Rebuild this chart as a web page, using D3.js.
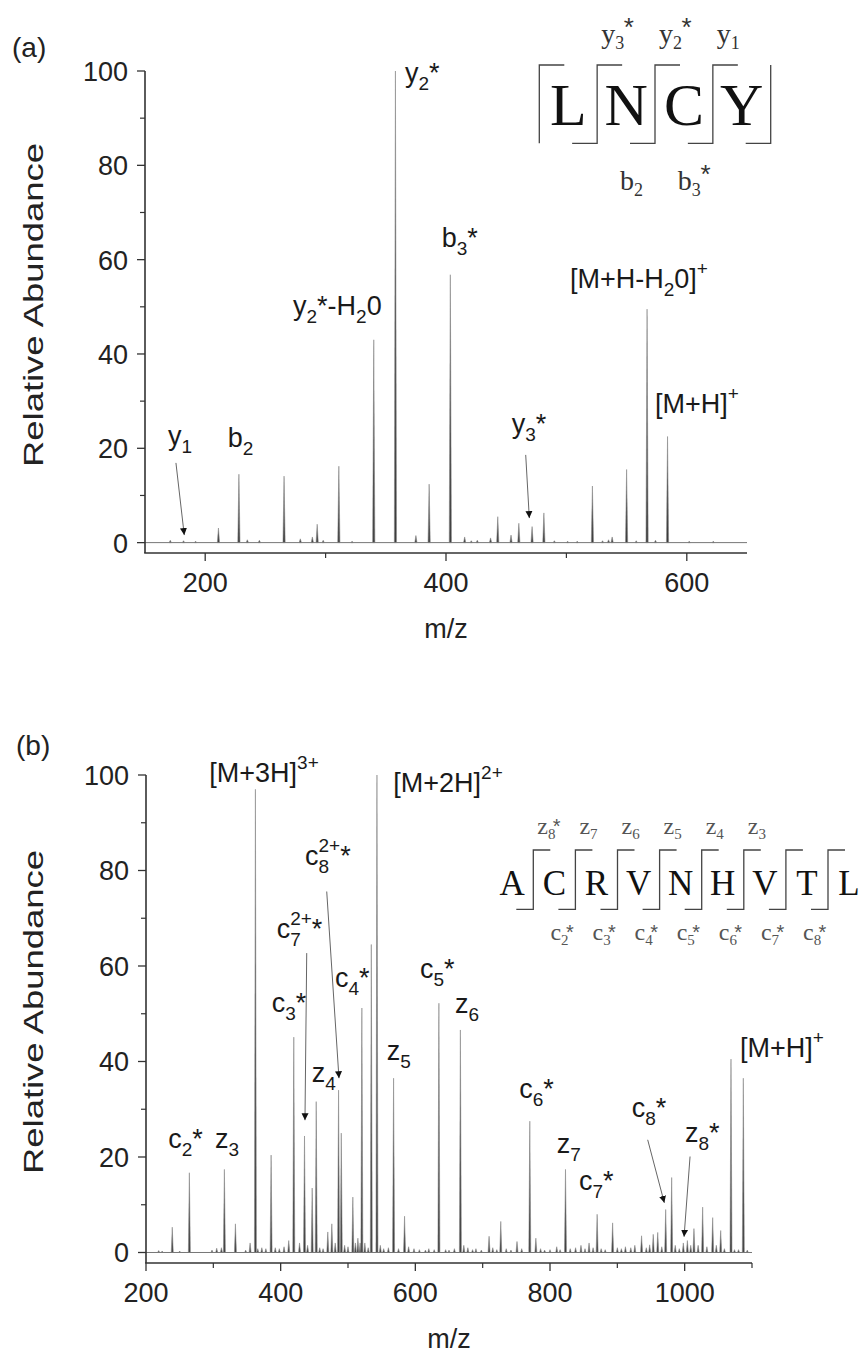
<!DOCTYPE html>
<html>
<head>
<meta charset="utf-8">
<script src="https://cdn.jsdelivr.net/npm/d3@7"></script>
<style>
  html, body { margin: 0; padding: 0; background: #fff; }
  svg { display: block; }
</style>
</head>
<body>
<div id="chart"></div>
<script>
// ---------------- DATA ----------------
// Panel (a): peaks [m/z, relative abundance]
const peaksA = [
  [171,0.5],[182,0.4],[192,0.3],[211,3.1],[228,14.5],[235,0.6],[245,0.5],
  [265.5,14.1],[279,0.8],[289,1.2],[293,3.9],[298,0.5],[311,16.2],[322,0.3],
  [340,43],[358,100],[375,1.5],[386,12.4],[403.6,56.8],[415.5,1.2],[421,0.4],
  [426,0.5],[437,1.0],[443,5.5],[454,1.6],[460.5,4.1],[471.5,3.4],[481.3,6.3],
  [490,0.4],[501,0.3],[509,0.3],[521.6,12],[530,0.4],[535,0.6],[538,1.2],
  [550,15.5],[558,0.4],[567,49.5],[574,0.5],[584,22.5],[602,0.3],[622,0.3]
];
// Panel (b)
const peaksB = [
  [218.8,0.4],[224,0.3],[239,5.3],[250,0.3],[264.4,16.7],[298,0.5],[305,0.9],
  [312,1.0],[316.4,17.4],[332.8,6],[348,0.5],[354.6,2],[362.5,97],[366,0.8],
  [372,1.0],[378,0.8],[385.8,20.4],[392,1.0],[398,0.8],[405,1.2],[412,2.5],
  [419.5,45.1],[428,2],[435.4,24.4],[440,1.5],[446.8,13.5],[452.8,31.6],
  [458,1.0],[463,0.8],[470,4.3],[476,6],[481,2],[486,34],[490,25],[495,1.5],
  [500,1.2],[507.2,11.6],[511,2],[514.7,3],[518,2],[520.6,51.2],[525,2],
  [530,1],[534.6,64.5],[543,100],[548,1.5],[553,0.8],[560,1.0],[567.7,36.5],
  [575,0.8],[584,7.6],[590,1.2],[598,0.8],[606,0.6],[615,0.5],[620,0.8],
  [628,0.6],[635,52.2],[645,0.6],[650,0.5],[658,0.8],[666.9,46.6],[672,1.5],
  [678,1.0],[685,0.6],[690,0.8],[698,0.5],[709.5,3.4],[715,1.0],[721,0.6],
  [726.9,6.5],[735,0.8],[742,0.5],[751,2.3],[758,0.8],[770,27.5],[779,3],
  [786,0.8],[792,0.5],[800,0.6],[810,1.2],[815,0.6],[823,17.4],[830,0.8],
  [838,1.0],[846,1.5],[852,0.8],[858,2.0],[864,1.0],[870,8],[876,0.8],
  [882,0.6],[893,6.2],[900,1.0],[906,0.8],[912,1.2],[920,1.0],[926,1.5],
  [936,3.5],[943,1.0],[948,1.6],[953.3,3.8],[960,4.2],[966,1.2],[971.8,9],
  [980.7,15.7],[986,1.5],[992,0.8],[998,2],[1004,2.5],[1009,1.5],[1013.8,5],
  [1020,1.5],[1026.7,9.5],[1033,1.2],[1041.6,7.3],[1047,1.5],[1053.5,4.6],
  [1059,0.8],[1068.8,40.5],[1074,0.6],[1080,0.6],[1087.1,36.5],[1093,0.5]
];

// tick values
const yMajor = [0,20,40,60,80,100];
const yMinor = [10,30,50,70,90];
const xMajorA = [200,400,600];
const xMinorA = [300,500];
const xMajorB = [200,400,600,800,1000];
const xMinorB = [300,500,700,900,1100];

// peak annotations: [m/z, abundance] anchor of the text start/baseline, rich text parts
const labelsA = [
  {mz:365.9, ab:97.7, parts:[["y"],["2","sub"],["*"]]},
  {mz:396.4, ab:62.7, parts:[["b"],["3","sub"],["*"]]},
  {mz:503,   ab:54,   parts:[["[M+H-H"],["2","sub"],["0]"],["+","sup"]]},
  {mz:272.9, ab:48.3, parts:[["y"],["2","sub"],["*-H"],["2","sub"],["0"]]},
  {mz:169.1, ab:20.7, parts:[["y"],["1","sub"]]},
  {mz:218.7, ab:20.3, parts:[["b"],["2","sub"]]},
  {mz:454.6, ab:23.2, parts:[["y"],["3","sub"],["*"]]},
  {mz:573.6, ab:27.4, parts:[["[M+H]"],["+","sup"]]}
];
const arrowsA = [
  {from:[175.7,16.9], to:[182.6,1.6]},
  {from:[466.2,18.6], to:[469.2,5.2]}
];
const labelsB = [
  {mz:294,    ab:98.6, parts:[["[M+3H]"],["3+","sup"]]},
  {mz:567.3,  ab:96.5, parts:[["[M+2H]"],["2+","sup"]]},
  {mz:436.1,  ab:81.2, parts:[["c"],["8","sub"],["2+","sup","stack"],["*"]]},
  {mz:394.1,  ab:65.8, parts:[["c"],["7","sub"],["2+","sup","stack"],["*"]]},
  {mz:480.7,  ab:55.7, parts:[["c"],["4","sub"],["*"]]},
  {mz:386.7,  ab:50.4, parts:[["c"],["3","sub"],["*"]]},
  {mz:446.1,  ab:35.8, parts:[["z"],["4","sub"]]},
  {mz:557.5,  ab:40.3, parts:[["z"],["5","sub"]]},
  {mz:233.1,  ab:21.8, parts:[["c"],["2","sub"],["*"]]},
  {mz:302.5,  ab:21.8, parts:[["z"],["3","sub"]]},
  {mz:606.9,  ab:57.4, parts:[["c"],["5","sub"],["*"]]},
  {mz:658.9,  ab:50.1, parts:[["z"],["6","sub"]]},
  {mz:754.4,  ab:32.3, parts:[["c"],["6","sub"],["*"]]},
  {mz:810,    ab:20.8, parts:[["z"],["7","sub"]]},
  {mz:843.1,  ab:13.1, parts:[["c"],["7","sub"],["*"]]},
  {mz:921.4,  ab:28.4, parts:[["c"],["8","sub"],["*"]]},
  {mz:1000.5, ab:23.2, parts:[["z"],["8","sub"],["*"]]},
  {mz:1082.2, ab:41,   parts:[["[M+H]"],["+","sup"]]}
];
const arrowsB = [
  {from:[438.7,62.7], to:[436.1,27.7]},
  {from:[468.4,75.6], to:[486.6,36.5]},
  {from:[945.1,23.6], to:[969.8,10.4]},
  {from:[1008,20.1],  to:[999.1,3.3]}
];

// peptide sequences and fragment ions (site = cleavage after residue index)
const seqA = ["L","N","C","Y"];
const ionsTopA = [
  {site:1, parts:[["y"],["3","sub"],["*","star","stack"]]},
  {site:2, parts:[["y"],["2","sub"],["*","star","stack"]]},
  {site:3, parts:[["y"],["1","sub"]]}
];
const ionsBotA = [
  {site:2, parts:[["b"],["2","sub"]]},
  {site:3, parts:[["b"],["3","sub"],["*","star","stack"]]}
];
const seqB = ["A","C","R","V","N","H","V","T","L"];
const ionsTopB = [
  {site:1, parts:[["z"],["8","sub"],["*","star","stack"]]},
  {site:2, parts:[["z"],["7","sub"]]},
  {site:3, parts:[["z"],["6","sub"]]},
  {site:4, parts:[["z"],["5","sub"]]},
  {site:5, parts:[["z"],["4","sub"]]},
  {site:6, parts:[["z"],["3","sub"]]}
];
const ionsBotB = [
  {site:2, parts:[["c"],["2","sub"],["*","star","stack"]]},
  {site:3, parts:[["c"],["3","sub"],["*","star","stack"]]},
  {site:4, parts:[["c"],["4","sub"],["*","star","stack"]]},
  {site:5, parts:[["c"],["5","sub"],["*","star","stack"]]},
  {site:6, parts:[["c"],["6","sub"],["*","star","stack"]]},
  {site:7, parts:[["c"],["7","sub"],["*","star","stack"]]},
  {site:8, parts:[["c"],["8","sub"],["*","star","stack"]]}
];

// ---------------- DRAWING ----------------
const W = 860, H = 1353;
const SANS = "'Liberation Sans', Arial, Helvetica, sans-serif";
const SERIF = "'Liberation Serif', 'Times New Roman', serif";
const svg = d3.select("#chart").append("svg").attr("width", W).attr("height", H);

svg.append("defs").append("marker")
  .attr("id","ah").attr("viewBox","0 0 10 10").attr("refX",10).attr("refY",5)
  .attr("markerWidth",7).attr("markerHeight",11).attr("markerUnits","userSpaceOnUse")
  .attr("orient","auto")
  .append("path").attr("d","M0,0L10,5L0,10Z").attr("fill","#111");

function rich(g, x, y, parts, o) {
  const t = g.append("text").attr("x", x).attr("y", y)
    .style("font-family", o.family).style("font-size", o.size + "px").attr("fill", o.color);
  let cur = 0, lastW = 0;
  parts.forEach(p => {
    const [s, kind, stack] = p;
    const target = kind === "sub" ? o.subOff : kind === "sup" ? o.supOff :
                   kind === "star" ? o.starOff : 0;
    const fs = kind === "star" ? o.starSize : (kind ? o.small : o.size);
    const ts = t.append("tspan").text(s).attr("dy", target - cur)
      .style("font-size", fs + "px");
    if (kind === "star") {
      ts.style("font-family", SANS);
      if (stack) ts.attr("dx", -lastW * (o.starBack || 0));
    } else if (stack) {
      ts.attr("dx", -lastW);
    }
    cur = target;
    lastW = ts.node().getComputedTextLength();
  });
  return t;
}

function panel(cfg) {
  const x = d3.scaleLinear().domain(cfg.xDomain).range([cfg.left, cfg.right]);
  const y = d3.scaleLinear().domain([-2.2, 100]).range([cfg.bottom, cfg.top]);
  const g = svg.append("g");

  // spectrum baseline
  g.append("line").attr("x1", cfg.left).attr("x2", cfg.right)
    .attr("y1", y(0)).attr("y2", y(0)).attr("stroke", "#777").attr("stroke-width", 1);

  // peaks
  const hw = cfg.hw;
  g.selectAll("path.pk").data(cfg.peaks).join("path").attr("class","pk")
    .attr("d", d => {
      const px = x(d[0]), py = y(d[1]), p0 = y(0);
      return `M${px-hw},${p0}L${px},${py}L${px+hw},${p0}Z`;
    })
    .attr("fill", "#3c3c3c").attr("stroke", "#8a8a8a").attr("stroke-width", 0.6)
    .attr("stroke-linejoin", "round");

  // axes
  const axc = "#333";
  g.append("line").attr("x1", cfg.left).attr("x2", cfg.left)
    .attr("y1", y(100)).attr("y2", cfg.bottom).attr("stroke", axc).attr("stroke-width", 1.6);
  g.append("line").attr("x1", cfg.left - 0.8).attr("x2", cfg.right)
    .attr("y1", cfg.bottom).attr("y2", cfg.bottom).attr("stroke", axc).attr("stroke-width", 1.6);

  g.selectAll("line.ymaj").data(yMajor).join("line")
    .attr("x1", cfg.left - 8).attr("x2", cfg.left).attr("y1", d => y(d)).attr("y2", d => y(d))
    .attr("stroke", axc).attr("stroke-width", 1.3);
  g.selectAll("line.ymin").data(yMinor).join("line")
    .attr("x1", cfg.left - 5).attr("x2", cfg.left).attr("y1", d => y(d)).attr("y2", d => y(d))
    .attr("stroke", axc).attr("stroke-width", 1.2);
  g.selectAll("text.ytl").data(yMajor).join("text")
    .attr("x", cfg.left - 17).attr("y", d => y(d) + 10).attr("text-anchor", "end")
    .style("font-family", SANS).style("font-size", "27px").attr("fill", "#222").text(d => d);

  g.selectAll("line.xmaj").data(cfg.xMajor).join("line")
    .attr("x1", d => x(d)).attr("x2", d => x(d)).attr("y1", cfg.bottom).attr("y2", cfg.bottom + 8)
    .attr("stroke", axc).attr("stroke-width", 1.3);
  g.selectAll("line.xmin").data(cfg.xMinor).join("line")
    .attr("x1", d => x(d)).attr("x2", d => x(d)).attr("y1", cfg.bottom).attr("y2", cfg.bottom + 5)
    .attr("stroke", axc).attr("stroke-width", 1.2);
  g.selectAll("text.xtl").data(cfg.xMajor).join("text")
    .attr("x", d => x(d)).attr("y", cfg.bottom + 39).attr("text-anchor", "middle")
    .style("font-family", SANS).style("font-size", "27px").attr("fill", "#222").text(d => d);

  // axis titles
  g.append("text").attr("x", (cfg.left + cfg.right) / 2).attr("y", cfg.bottom + 85)
    .attr("text-anchor", "middle").style("font-family", SANS).style("font-size", "27px")
    .attr("fill", "#222").text("m/z");
  g.append("text").attr("transform", `translate(43,${cfg.yTitle}) rotate(-90)`)
    .attr("text-anchor", "middle").style("font-family", SANS).style("font-size", "28px")
    .attr("textLength", 324).attr("lengthAdjust", "spacingAndGlyphs")
    .attr("fill", "#222").text("Relative Abundance");

  // panel tag
  g.append("text").attr("x", cfg.tag[1]).attr("y", cfg.tag[2])
    .style("font-family", SANS).style("font-size", "28px").attr("fill", "#222").text(cfg.tag[0]);

  // arrows
  g.selectAll("line.arr").data(cfg.arrows).join("line")
    .attr("x1", d => x(d.from[0])).attr("y1", d => y(d.from[1]))
    .attr("x2", d => x(d.to[0])).attr("y2", d => y(d.to[1]))
    .attr("stroke", "#666").attr("stroke-width", 1).attr("marker-end", "url(#ah)");

  // labels
  const lo = {family: SANS, size: 27, small: 19, subOff: 8, supOff: -13, color: "#1a1a1a"};
  cfg.labels.forEach(l => rich(g, x(l.mz), y(l.ab), l.parts, lo));

  // peptide scheme
  const pc = cfg.pep;
  const band = d3.scaleBand().domain(d3.range(pc.seq.length)).range(pc.range).paddingInner(0).paddingOuter(0);
  g.selectAll("text.res").data(pc.seq).join("text")
    .attr("x", (d, i) => band(i) + band.bandwidth() / 2).attr("y", pc.baseline)
    .attr("text-anchor", "middle").style("font-family", SERIF).style("font-size", pc.size + "px")
    .attr("fill", "#111").text(d => d);
  const seps = d3.range(1, pc.seq.length).map(i => band(i));
  const bk = g.append("g").attr("stroke", "#444").attr("stroke-width", 1.3).attr("fill", "none");
  seps.forEach(sx => {
    bk.append("path").attr("d",
      `M${sx - pc.arm},${pc.bot}H${sx}V${pc.topY}H${sx + pc.arm}`);
  });
  if (pc.outer) {
    const l = pc.range[0], r = pc.range[1];
    bk.append("path").attr("d", `M${l},${pc.bot}V${pc.topY}H${l + pc.arm}`);
    bk.append("path").attr("d", `M${r - pc.arm},${pc.bot}H${r}V${pc.topY}`);
  }
  const io = {family: SERIF, size: pc.ionSize, small: pc.ionSmall, subOff: pc.ionSub,
              supOff: pc.ionSup, starOff: pc.starOff, starSize: pc.starSize,
              color: pc.ionColor, starBack: pc.starBack};
  pc.top.forEach(ion => rich(g, band(ion.site) + pc.topDx, pc.topBase, ion.parts, io));
  pc.botm.forEach(ion => rich(g, band(ion.site) + pc.botDx, pc.botBase, ion.parts, io));
}

panel({
  xDomain: [150, 650], left: 145, right: 747, top: 71, bottom: 553,
  peaks: peaksA, hw: 1.1, xMajor: xMajorA, xMinor: xMinorA,
  yTitle: 305, tag: ["(a)", 12, 57],
  arrows: arrowsA, labels: labelsA,
  pep: {seq: seqA, range: [539.3, 770.7], baseline: 125, size: 60,
        topY: 65, bot: 143.3, arm: 25, outer: true,
        top: ionsTopA, botm: ionsBotA, topDx: 4, topBase: 43, botDx: -35, botBase: 190,
        ionSize: 28, ionSmall: 18, ionSub: 6, ionSup: -13, starOff: -7, starSize: 26,
        starBack: 0.05, ionColor: "#333"}
});

panel({
  xDomain: [200, 1100], left: 146, right: 752, top: 775, bottom: 1263,
  peaks: peaksB, hw: 1.0, xMajor: xMajorB, xMinor: xMinorB,
  yTitle: 1012, tag: ["(b)", 16, 755],
  arrows: arrowsB, labels: labelsB,
  pep: {seq: seqB, range: [491.2, 870.1], baseline: 895, size: 35,
        topY: 850, bot: 909.3, arm: 17, outer: false,
        top: ionsTopB, botm: ionsBotB, topDx: 4, topBase: 834, botDx: -25, botBase: 940,
        ionSize: 24, ionSmall: 15, ionSub: 5, ionSup: -10, starOff: -1, starSize: 20,
        starBack: 0.35, ionColor: "#555"}
});
</script>
</body>
</html>
